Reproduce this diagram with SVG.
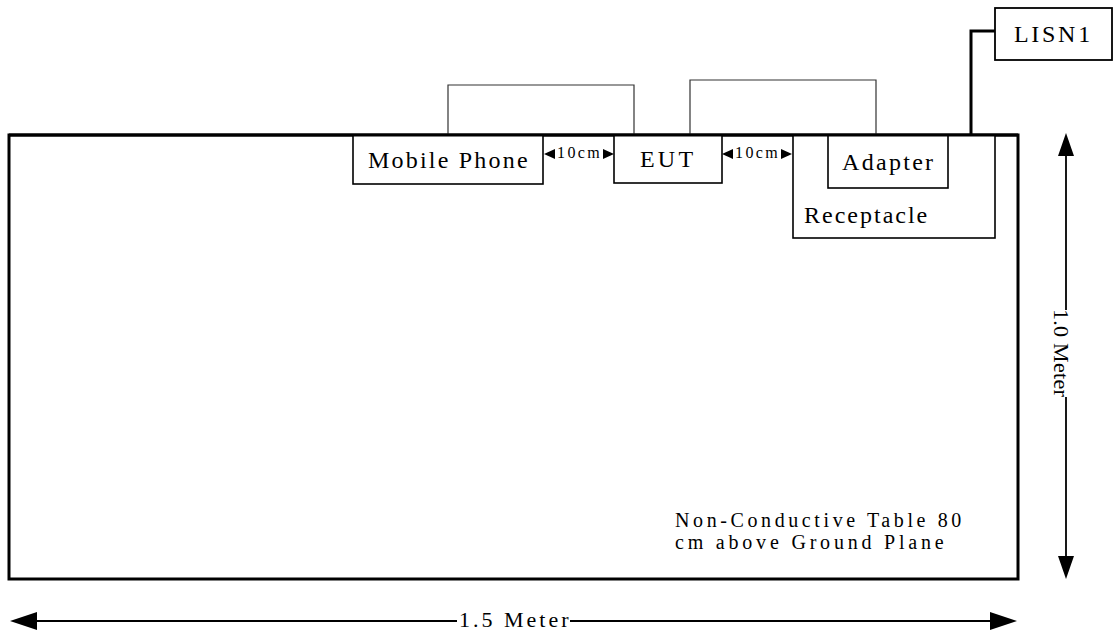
<svg xmlns="http://www.w3.org/2000/svg" width="1113" height="632" viewBox="0 0 1113 632">
<style>
  text { font-family: "Liberation Serif", "Times New Roman", serif; fill: #000; }
  .box { fill: #fff; stroke: #000; stroke-width: 1.6; }
  .lbl { font-size: 24px; letter-spacing: 2.2px; }
  .cm { font-size: 16px; letter-spacing: 2.4px; }
  .wire { fill: none; stroke: #333; stroke-width: 1.2; }
  .thick { fill: none; stroke: #000; stroke-width: 3; }
  .dim { fill: none; stroke: #000; stroke-width: 1.8; }
  .ah { fill: #000; stroke: none; }
</style>
<rect width="1113" height="632" fill="#fff"/>

<g id="table">
  <rect x="9" y="135" width="1009" height="444" fill="#fff" stroke="#000" stroke-width="3"/>
  <text x="675" y="527" style="font-size:20px;letter-spacing:3.6px">Non-Conductive Table 80</text>
  <text x="675" y="549" style="font-size:20px;letter-spacing:3.8px">cm above Ground Plane</text>
</g>

<g id="connectors">
  <path class="wire" d="M448,135 V85 H634 V135"/>
  <path class="wire" d="M690,135 V80 H876 V135"/>
  <path class="thick" d="M971,135 V31 H995"/>
  <!-- 10cm spacing markers -->
  <polygon class="ah" points="544,154 555,149 555,159"/>
  <polygon class="ah" points="614,154 603,149 603,159"/>
  <polygon class="ah" points="722,154 733,149 733,159"/>
  <polygon class="ah" points="792,154 781,149 781,159"/>
  <!-- vertical dimension -->
  <path class="dim" d="M1066,153 V310 M1066,397 V559"/>
  <polygon class="ah" points="1066,133 1058,156 1074,156"/>
  <polygon class="ah" points="1066,579 1058,556 1074,556"/>
  <!-- horizontal dimension -->
  <path class="dim" d="M34,621 H457 M570,621 H993"/>
  <polygon class="ah" points="10,621 37,612 37,630"/>
  <polygon class="ah" points="1017,621 990,612 990,630"/>
</g>

<g id="dim-labels">
  <text class="cm" x="557" y="158">10cm</text>
  <text class="cm" x="735" y="158">10cm</text>
  <text transform="translate(1054,353) rotate(90)" text-anchor="middle" style="font-size:22px;letter-spacing:0.3px">1.0 Meter</text>
  <text x="459" y="627" style="font-size:22px;letter-spacing:3px">1.5 Meter</text>
</g>

<g id="mobile-phone">
  <rect class="box" x="353" y="135" width="190" height="49"/>
  <text class="lbl" x="368" y="168">Mobile Phone</text>
</g>

<g id="eut">
  <rect class="box" x="614" y="135" width="108" height="48"/>
  <text class="lbl" x="640" y="167" style="letter-spacing:3.2px">EUT</text>
</g>

<g id="receptacle">
  <rect class="box" x="793" y="135" width="202" height="103"/>
  <text class="lbl" x="804" y="223" style="letter-spacing:2px">Receptacle</text>
</g>

<g id="adapter">
  <rect class="box" x="828" y="135" width="120" height="53"/>
  <text class="lbl" x="842" y="170" style="letter-spacing:2.3px">Adapter</text>
</g>

<g id="lisn1">
  <rect x="995" y="8" width="117" height="52" fill="#fff" stroke="#000" stroke-width="1.8"/>
  <text class="lbl" x="1014" y="42" style="letter-spacing:2.7px">LISN1</text>
</g>

<path d="M9,135 H1018" stroke="#000" stroke-width="3" fill="none"/>
</svg>
